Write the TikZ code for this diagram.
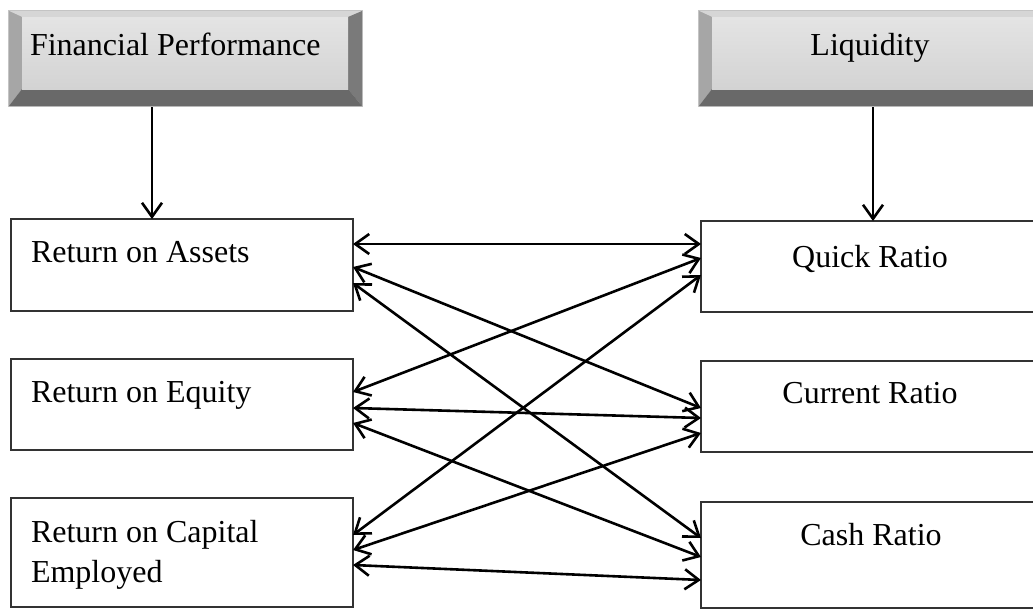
\documentclass[tikz,border=0pt]{standalone}
\usepackage{fontspec}
\setmainfont{Liberation Serif}
\usetikzlibrary{arrows.meta,calc}
\definecolor{bvedge}{HTML}{C4C4C4}
\definecolor{bvtop}{HTML}{D6D6D6}
\definecolor{bvleft}{HTML}{A6A6A6}
\definecolor{bvright}{HTML}{7A7A7A}
\definecolor{bvbot}{HTML}{696969}
\definecolor{facetop}{HTML}{E4E4E4}
\definecolor{facebot}{HTML}{D3D3D3}
\definecolor{boxline}{HTML}{333333}
\begin{document}
\begin{tikzpicture}[x=1pt,y=-1pt,
  lbl/.style={inner sep=0pt,outer sep=0pt,font=\fontsize{32}{40}\selectfont},
  plainbox/.style={draw=boxline,line width=1.7pt,fill=white,rectangle,inner sep=0pt,outer sep=0pt,
    minimum width=342pt,minimum height=92pt,anchor=north west},
  bevelbox/.style={rectangle,inner sep=0pt,outer sep=0pt,anchor=north west,
    minimum width=355pt,minimum height=97pt,
    path picture={
      \coordinate (bnw) at (path picture bounding box.north west);
      \coordinate (bne) at (path picture bounding box.north east);
      \coordinate (bsw) at (path picture bounding box.south west);
      \coordinate (bse) at (path picture bounding box.south east);
      \coordinate (inw) at ($(bnw)+(14pt,-7pt)$);
      \coordinate (ine) at ($(bne)+(-15pt,-7pt)$);
      \coordinate (isw) at ($(bsw)+(14pt,18pt)$);
      \coordinate (ise) at ($(bse)+(-15pt,18pt)$);
      \fill[bvedge] (bnw) rectangle (bse);
      \fill[bvtop] ($(bnw)+(1pt,-1pt)$) -- ($(bne)+(-1pt,-1pt)$) -- (ine) -- (inw) -- cycle;
      \fill[bvleft] ($(bnw)+(1pt,-1pt)$) -- (inw) -- (isw) -- ($(bsw)+(1pt,1pt)$) -- cycle;
      \fill[bvright] ($(bne)+(-1pt,-1pt)$) -- ($(bse)+(-1pt,1pt)$) -- (ise) -- (ine) -- cycle;
      \fill[bvbot] ($(bsw)+(1pt,1pt)$) -- ($(bse)+(-1pt,1pt)$) -- (ise) -- (isw) -- cycle;
      \shade[top color=facetop,bottom color=facebot] (inw) rectangle (ise);
    }},
  dbl/.style={{Straight Barb[length=14pt,width=20pt]}-{Straight Barb[length=14pt,width=20pt]},line width=2.6pt},
  down/.style={-{Straight Barb[length=14pt,width=20pt]},line width=2.6pt}]
\useasboundingbox (0,0) rectangle (1033,608);
\clip (0,0) rectangle (1033,608);

% header boxes
\node[bevelbox] (fp) at (8,10) {};
\node[bevelbox] (liq) at (698,10) {};
\node[lbl,anchor=base west] (fpt) at (30,55) {Financial Performance};
\node[lbl,anchor=base] (liqt) at (870,55) {Liquidity};

% left boxes
\node[plainbox] (roa) at (11,219) {};
\node[plainbox,minimum height=91pt] (roe) at (11,359) {};
\node[plainbox,minimum height=109pt] (roce) at (11,498) {};
\node[lbl,anchor=base west] (roat) at (31,262) {Return on Assets};
\node[lbl,anchor=base west] (roet) at (31,402) {Return on Equity};
\node[lbl,anchor=base west] (rocea) at (31,542) {Return on Capital};
\node[lbl,anchor=base west] (roceb) at (31,582) {Employed};

% right boxes
\node[plainbox,minimum height=91pt] (qr) at (701,221) {};
\node[plainbox,minimum height=91pt] (cr) at (701,361) {};
\node[plainbox,minimum height=106pt] (cash) at (701,502) {};
\node[lbl,anchor=base] (qrt) at (870,267) {Quick Ratio};
\node[lbl,anchor=base] (crt) at (870,403) {Current Ratio};
\node[lbl,anchor=base] (casht) at (871,545) {Cash Ratio};

% vertical arrows
\coordinate (ax1) at (152,0);
\coordinate (ax2) at (873,0);
\draw[down] (fp.south -| ax1) -- (roa.north -| ax1);
\draw[down] (liq.south -| ax2) -- (qr.north -| ax2);

% cross connectors
\draw[dbl] ($(roa.north east)+(0,25)$) -- ($(qr.north west)+(0,23)$);
\draw[dbl] ($(roa.north east)+(0,48)$) -- ($(cr.north west)+(0,47)$);
\draw[dbl] ($(roa.north east)+(0,64)$) -- ($(cash.north west)+(0,36)$);
\draw[dbl] ($(roe.north east)+(0,33)$) -- ($(qr.north west)+(0,37)$);
\draw[dbl] ($(roe.north east)+(0,49)$) -- ($(cr.north west)+(0,57)$);
\draw[dbl] ($(roe.north east)+(0,64)$) -- ($(cash.north west)+(0,55)$);
\draw[dbl] ($(roce.north east)+(0,37)$) -- ($(qr.north west)+(0,54)$);
\draw[dbl] ($(roce.north east)+(0,52)$) -- ($(cr.north west)+(0,72)$);
\draw[dbl] ($(roce.north east)+(0,67)$) -- ($(cash.north west)+(0,78)$);
\end{tikzpicture}
\end{document}
